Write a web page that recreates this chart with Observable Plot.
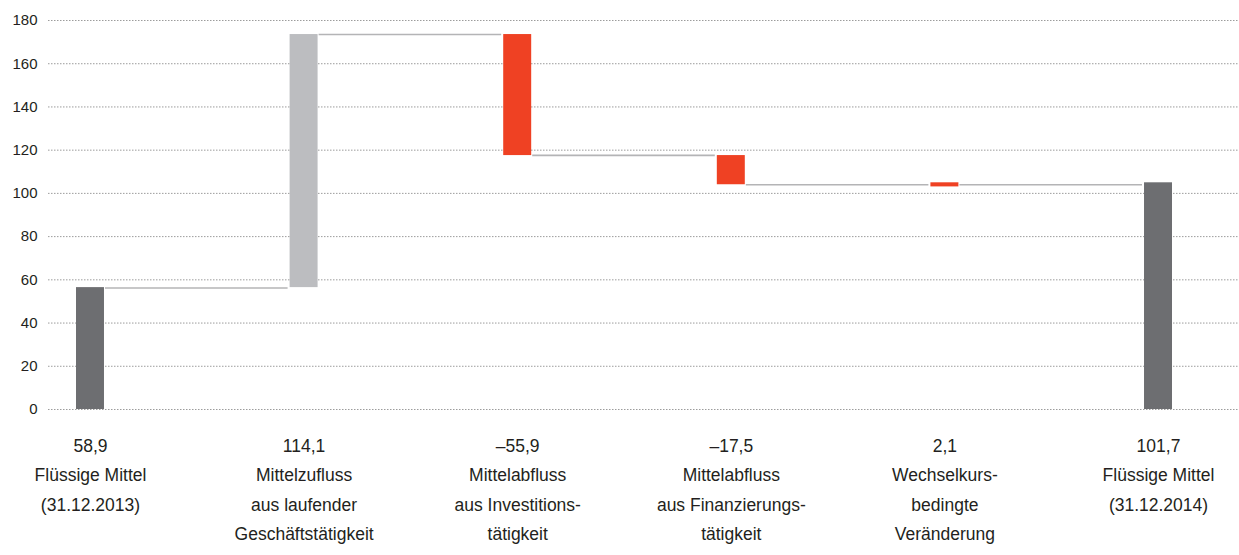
<!DOCTYPE html>
<html>
<head>
<meta charset="utf-8">
<script src="https://cdn.jsdelivr.net/npm/d3@7"></script>
<script src="https://cdn.jsdelivr.net/npm/@observablehq/plot@0.6"></script>
<style>
  html, body { margin: 0; padding: 0; background: #ffffff; }
  #chart svg { display: block; }
</style>
</head>
<body>
<div id="chart"></div>
<script>
// ---- data ----
const categories = ["fm2013", "zufluss", "invest", "finanz", "wechsel", "fm2014"];
const valueLabels = ["58,9", "114,1", "–55,9", "–17,5", "2,1", "101,7"];
const nameLabels = [
  "Flüssige Mittel\n(31.12.2013)",
  "Mittelzufluss\naus laufender\nGeschäftstätigkeit",
  "Mittelabfluss\naus Investitions-\ntätigkeit",
  "Mittelabfluss\naus Finanzierungs-\ntätigkeit",
  "Wechselkurs-\nbedingte\nVeränderung",
  "Flüssige Mittel\n(31.12.2014)"
];
const barFrom = [0, 56.4, 173.5, 117.5, 104.9, 0];
const barTo   = [56.4, 173.5, 117.5, 104.0, 103.0, 104.9];
const barKind = ["Bestand", "Zufluss", "Abfluss", "Abfluss", "Abfluss", "Bestand"];
const connectorLevel = [56.2, 173.5, 117.6, 104.0, 104.0];
const yTicks = [0, 20, 40, 60, 80, 100, 120, 140, 160, 180];

const kinds = ["Bestand", "Zufluss", "Abfluss"];
const kindColors = ["#6d6e71", "#bcbdc0", "#ef4123"];

// ---- tables built from the arrays ----
const bars = categories.map((c, i) => ({cat: c, from: barFrom[i], to: barTo[i], kind: barKind[i]}));
const connectors = connectorLevel.map((v, i) => ({a: categories[i], b: categories[i + 1], level: v}));
const labelOf = new Map(categories.map((c, i) => [c, valueLabels[i] + "\n" + nameLabels[i]]));

const chart = Plot.plot({
  width: 1239,
  height: 555,
  marginLeft: 48,
  marginRight: 0,
  marginTop: 20,
  marginBottom: 146,
  style: {fontFamily: "'Liberation Sans', Arial, sans-serif", color: "#231f20", background: "#ffffff"},
  x: {type: "band", domain: categories, range: [76, 1172], paddingInner: 0.869, paddingOuter: 0, align: 0.5, round: false, axis: null},
  y: {domain: [0, 180], axis: null},
  color: {domain: kinds, range: kindColors},
  marks: [
    Plot.ruleY(yTicks, {stroke: "#9c9c9c", strokeWidth: 1, strokeDasharray: "1.5,1.5"}),
    Plot.axisY(yTicks, {tickSize: 0, tickPadding: 11, fontSize: 15, tickFormat: (d) => String(d)}),
    Plot.ruleY(connectors, {y: "level", x1: "a", x2: "b", insetLeft: 29, insetRight: 30, stroke: "#b4b4b6", strokeWidth: 1.6}),
    Plot.barY(bars, {x: "cat", y1: "from", y2: "to", fill: "kind"}),
    Plot.axisX({tickSize: 0, tickPadding: 22, fontSize: 17.5, lineHeight: 1.67, tickFormat: (d) => labelOf.get(d)})
  ]
});
document.getElementById("chart").appendChild(chart);
</script>
</body>
</html>
